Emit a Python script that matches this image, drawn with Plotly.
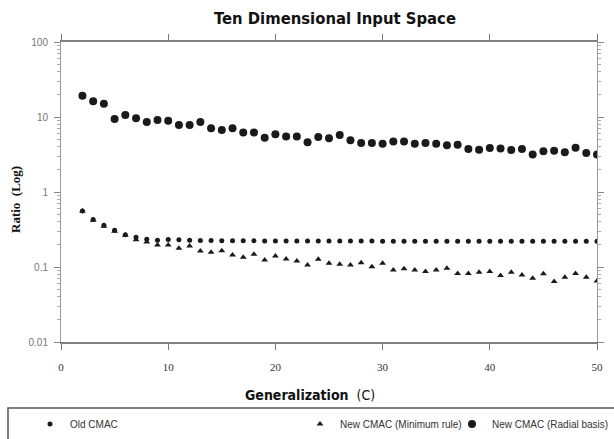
import plotly.graph_objects as go

C = list(range(2, 51))

old_cmac = [0.56, 0.43, 0.36, 0.31, 0.27, 0.25, 0.235, 0.228, 0.232, 0.23, 0.227, 0.225, 0.225,
            0.224, 0.224, 0.224, 0.224, 0.223, 0.223, 0.223, 0.223, 0.222, 0.222, 0.222, 0.222,
            0.222, 0.222, 0.222, 0.221, 0.221, 0.221, 0.221, 0.221, 0.22, 0.22, 0.22, 0.22,
            0.22, 0.22, 0.22, 0.22, 0.22, 0.22, 0.22, 0.22, 0.22, 0.22, 0.22, 0.22]

min_rule = [0.56, 0.42, 0.35, 0.30, 0.265, 0.23, 0.215, 0.196, 0.196, 0.178, 0.19, 0.163, 0.157,
            0.165, 0.145, 0.135, 0.148, 0.124, 0.14, 0.128, 0.12, 0.106, 0.127, 0.112, 0.109,
            0.106, 0.114, 0.101, 0.112, 0.091, 0.095, 0.091, 0.087, 0.091, 0.096, 0.082, 0.082,
            0.085, 0.087, 0.077, 0.085, 0.078, 0.071, 0.081, 0.064, 0.073, 0.082, 0.073, 0.065]

radial = [19.2, 16.2, 15.0, 9.4, 10.6, 9.6, 8.6, 9.1, 8.9, 7.8, 7.8, 8.6, 7.1, 6.7, 7.1, 6.2,
          6.2, 5.3, 5.9, 5.5, 5.5, 4.6, 5.4, 5.2, 5.75, 4.9, 4.5, 4.5, 4.4, 4.7, 4.7, 4.4, 4.5,
          4.4, 4.2, 4.25, 3.75, 3.66, 3.86, 3.8, 3.63, 3.75, 3.16, 3.5, 3.55, 3.4, 3.9, 3.3, 3.16]

x_ticks = [0, 10, 20, 30, 40, 50]
y_ticks = [0.01, 0.1, 1, 10, 100]
y_tick_text = ["0.01", "0.1", "1", "10", "100"]
y_minor = [d * m for d in (0.01, 0.1, 1, 10) for m in range(2, 10)]

names = ["Old CMAC", "New CMAC (Minimum rule)", "New CMAC (Radial basis)"]

W, H = 614, 439
L, R, T, B = 61, 17, 42, 97
PW, PH = W - L - R, H - T - B


def px_x(px):
    return (px - L) / PW


def px_y(py):
    return (H - B - py) / PH


fig = go.Figure()
fig.add_trace(go.Scatter(x=C, y=old_cmac, mode="markers", name=names[0],
                         marker=dict(symbol="circle", size=5, color="#1a1a1a"),
                         legend="legend"))
fig.add_trace(go.Scatter(x=C, y=min_rule, mode="markers", name=names[1],
                         marker=dict(symbol="triangle-up", size=6, color="#1a1a1a"),
                         legend="legend2"))
fig.add_trace(go.Scatter(x=C, y=radial, mode="markers", name=names[2],
                         marker=dict(symbol="circle", size=8, color="#1a1a1a"),
                         legend="legend3"))

leg_font = dict(family="Liberation Sans, Arial, sans-serif", size=10, color="#333")
leg_common = dict(orientation="h", yanchor="middle", y=px_y(424), xanchor="left",
                  bgcolor="rgba(0,0,0,0)", font=leg_font, itemwidth=30)

fig.update_layout(
    width=W, height=H,
    margin=dict(l=L, r=R, t=T, b=B, autoexpand=False),
    paper_bgcolor="white", plot_bgcolor="white",
    title=dict(text="<b>Ten Dimensional Input Space</b>", x=335 / W, xanchor="center",
               y=1 - 18 / H, yanchor="middle",
               font=dict(family="DejaVu Sans Condensed, Liberation Sans Narrow, sans-serif",
                         size=16.5, color="#111")),
    showlegend=True,
    legend=dict(x=px_x(70 - 40), **leg_common),
    legend2=dict(x=px_x(340 - 40), **leg_common),
    legend3=dict(x=px_x(492 - 40), **leg_common),
    xaxis=dict(range=[0, 50], tickvals=x_ticks, ticks="outside", ticklen=6,
               tickcolor="#777", showline=True, linecolor="#808080", linewidth=1.5,
               mirror="ticks", showgrid=False, zeroline=False, ticklabelstandoff=8,
               tickfont=dict(family="Liberation Serif, serif", size=11, color="#333")),
    yaxis=dict(type="log", range=[-2, 2], tickvals=y_ticks, ticktext=y_tick_text,
               ticks="outside", ticklen=6, tickcolor="#888", showline=True,
               linecolor="#9a9a9a", linewidth=1, mirror="ticks", showgrid=False,
               zeroline=False, ticklabelstandoff=4,
               minor=dict(tickmode="array", tickvals=y_minor, ticks="outside", ticklen=3,
                          tickcolor="#aaa", showgrid=False),
               tickfont=dict(family="Liberation Sans, sans-serif", size=10, color="#777")),
    annotations=[
        dict(text="<b>Generalization</b>  (C)", xref="paper", yref="paper",
             x=px_x(310), y=px_y(395), xanchor="center", yanchor="middle", showarrow=False,
             font=dict(family="DejaVu Sans Condensed, Liberation Sans Narrow, sans-serif",
                       size=14, color="#111")),
        dict(text="<b>Ratio  (Log)</b>", xref="paper", yref="paper",
             x=px_x(16), y=px_y(200), xanchor="center", yanchor="middle", showarrow=False,
             textangle=-90,
             font=dict(family="Liberation Serif, Times New Roman, serif", size=13, color="#111")),
    ],
    shapes=[
        dict(type="rect", xref="paper", yref="paper",
             x0=px_x(8), x1=px_x(625), y0=px_y(408), y1=px_y(450),
             line=dict(color="#555", width=1.5), fillcolor="rgba(0,0,0,0)"),
    ],
)

fig.write_html("out.html", config={"displayModeBar": False},
               post_script="document.body.style.margin='0';document.body.style.overflow='hidden';")
